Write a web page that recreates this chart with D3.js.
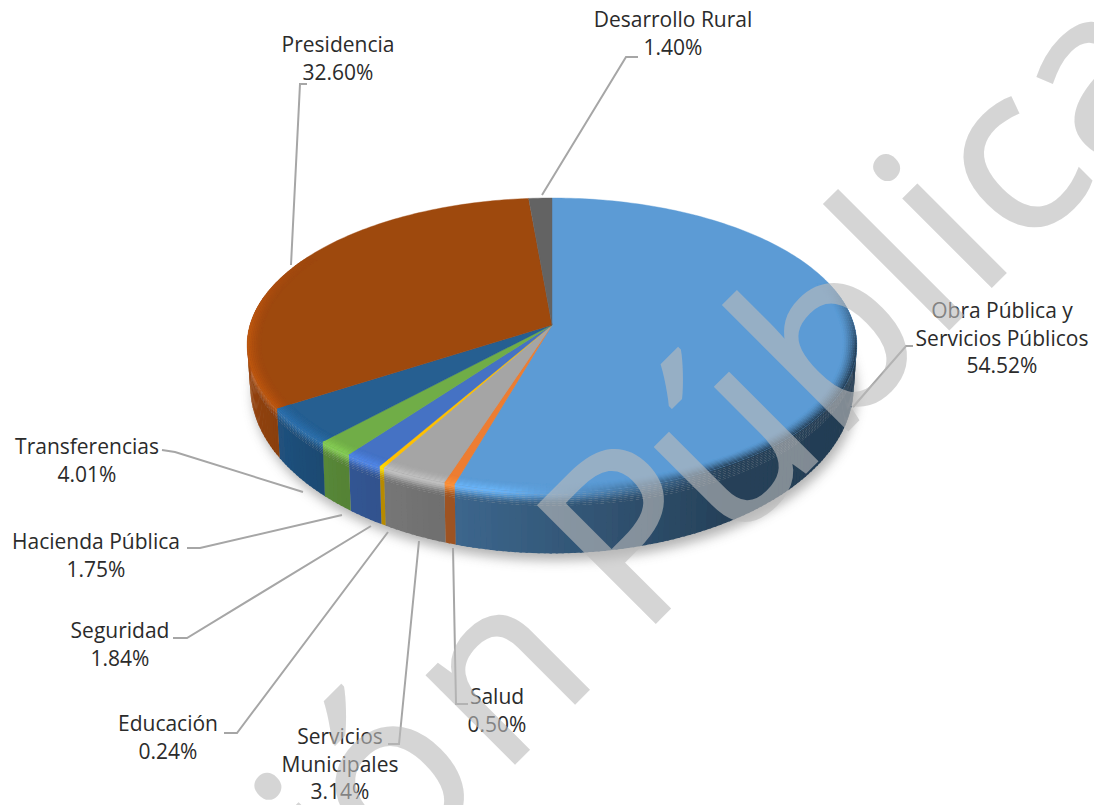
<!DOCTYPE html>
<html>
<head>
<meta charset="utf-8">
<script src="https://d3js.org/d3.v7.min.js"></script>
<style>
  html, body { margin: 0; padding: 0; background: #fff; }
  svg { display: block; }
  text { font-family: "Open Sans", sans-serif; fill: #2b2b2b; }
</style>
</head>
<body>
<div id="chart"></div>
<script>
// Values
const categories = ["Obra Pública y|Servicios Públicos", "Salud", "Servicios|Municipales", "Educación", "Seguridad", "Hacienda Pública", "Transferencias", "Presidencia", "Desarrollo Rural"];
const shares = [54.52, 0.50, 3.14, 0.24, 1.84, 1.75, 4.01, 32.60, 1.40];
const colors = ["#5B9BD5", "#ED7D31", "#A5A5A5", "#FFC000", "#4472C4", "#70AD47", "#255E91", "#9E480E", "#636363"];

// Label layout, same order as categories: text centre, first baseline, leader line
const labelX = [1002, 497, 340, 168, 120, 96, 87, 338, 673];
const labelY = [318, 704, 744, 731, 638, 549, 454, 52, 27];
const leaders = [
    [[853, 407], [906, 346], [913, 346]],
    [[453, 548], [456, 704], [468, 704]],
    [[419, 541], [399, 744], [388, 744]],
    [[388, 532], [237, 733], [224, 733]],
    [[371, 526], [187, 638], [173, 638]],
    [[342, 515], [200, 548], [187, 548]],
    [[303, 492], [175, 452], [162, 450]],
    [[291, 265], [300, 84], [307, 84]],
    [[542, 195], [626, 57], [638, 57]]
];

// Watermark letters and where each one starts along its baseline
const markText = "Opinión Pública";
const markX = [-920, -739, -597, -538, -396, -346, -195, -30, 1, 129, 276, 419, 479, 542, 656];

const width = 1094, height = 805;

const svg = d3.select("#chart").append("svg")
    .attr("width", width)
    .attr("height", height);

const defs = svg.append("defs");
defs.append("filter").attr("id", "soft")
    .append("feGaussianBlur").attr("stdDeviation", 0.7);
defs.append("filter").attr("id", "groundBlur")
    .attr("x", "-10%").attr("y", "-10%").attr("width", "120%").attr("height", "120%")
    .append("feGaussianBlur").attr("stdDeviation", 6);

// Tilted circle: apex sits above the ellipse centre because of the perspective
const apexX = 552, apexY = 325;
const stretchX = 302, stretchY = 144.3, persp = -0.136;
const RAD = Math.PI / 180;

function topPoint(deg, r) {
    const u = r * Math.sin(deg * RAD), v = -r * Math.cos(deg * RAD);
    const w = 1 + persp * v;
    return [apexX + stretchX * u / w, apexY + stretchY * v / w];
}
// r on the surface, s = how far down the side wall (0..1)
function point(deg, r, s) {
    const p = topPoint(deg, r);
    const bx = apexX + 0.99 * (p[0] - apexX);
    const by = apexY + 38 + 1.14 * (p[1] - apexY);
    return [p[0] + (bx - p[0]) * s, p[1] + (by - p[1]) * s];
}

const pie = d3.pie().sort(null).value(d => d);
const slices = pie(shares).map((d, i) => ({
    i: i,
    a0: d.startAngle / RAD,
    a1: d.endAngle / RAD,
    color: colors[i]
}));

// Lighting around the rim
const sideShade = d3.scaleLinear()
    .domain([80, 150, 196, 215, 240, 262, 285])
    .range([0.36, 0.42, 0.66, 0.74, 0.88, 0.95, 0.95]).clamp(true);
const rimLight = d3.scaleLinear()
    .domain([150, 190, 240, 268, 300])
    .range([1, 1.16, 1.2, 1.22, 1]).clamp(true);
const rimDark = d3.scaleLinear()
    .domain([72, 100, 150, 188])
    .range([0, 1, 1, 0]).clamp(true);

function sideColor(c, a) {
    return d3.interpolateRgb("#000", c)(sideShade(a));
}
function rimColor(c, a) {
    const base = d3.rgb(c), k = rimLight(a);
    const lit = d3.rgb(base.r * k, base.g * k, base.b * k).clamp().toString();
    return d3.interpolateRgb(lit, sideColor(c, a))(rimDark(a));
}

const line = d3.line();
const step = 1, overlap = 0.4;

function arcSteps(a0, a1) {
    const out = [];
    for (let a = a0; a < a1 - 1e-6; a += step) out.push([a, Math.min(a + step + overlap, a1)]);
    return out;
}
function quad(a0, a1, st0, st1) {
    return line([point(a0, st0.r, st0.s), point(a1, st0.r, st0.s), point(a1, st1.r, st1.s), point(a0, st1.r, st1.s)]) + "Z";
}

const pieG = svg.append("g").attr("filter", "url(#soft)");

// ground shadow
const rimAngles = d3.range(0, 361, 3);
svg.insert("path", "g")
    .attr("d", line(rimAngles.map(a => point(a, 1, 1))) + "Z")
    .attr("transform", "translate(3,7)")
    .attr("fill", "#666")
    .attr("opacity", 0.5)
    .attr("filter", "url(#groundBlur)");

// side walls (front half only), fading from the rim colour to the wall colour
const wallStops = [1, 0.22, 0.19, 0.16, 0.13, 0.10, 0.07, 0.04, 0];
const wallEase = d3.scaleLinear().domain([0, 0.22]).range([0, 1]).clamp(true);
slices.forEach(sl => {
    const a0 = Math.max(sl.a0, 78), a1 = Math.min(sl.a1, 282);
    if (a1 <= a0) return;
    d3.pairs(wallStops).forEach(([s1, s0]) => {
        const f = d3.easeSinInOut(wallEase((s0 + s1) / 2));
        arcSteps(a0, a1).forEach(([p, q]) => {
            const m = (p + q) / 2;
            pieG.append("path")
                .attr("d", quad(p, q, { r: 1, s: s0 }, { r: 1, s: s1 }))
                .attr("fill", d3.interpolateRgb(rimColor(sl.color, m), sideColor(sl.color, m))(f));
        });
    });
});

// flat top of each slice
slices.forEach(sl => {
    const pts = [[apexX, apexY]];
    d3.range(sl.a0, sl.a1, 1).concat([sl.a1]).forEach(a => pts.push(topPoint(a, 1)));
    pieG.append("path")
        .attr("d", line(pts) + "Z")
        .attr("fill", sl.color)
        .attr("stroke", sl.color)
        .attr("stroke-width", 0.4);
});

// bevel along the rim of the top face
const ringRadii = d3.range(0, 9).map(k => 0.955 + k * 0.045 / 8);
slices.forEach(sl => {
    const a0 = Math.max(sl.a0, 72), a1 = Math.min(sl.a1, 300);
    if (a1 <= a0) return;
    d3.pairs(ringRadii).forEach(([r0, r1], k) => {
        const t = Math.pow((k + 0.5) / (ringRadii.length - 1), 1.4);
        arcSteps(a0, a1).forEach(([p, q]) => {
            const m = (p + q) / 2;
            pieG.append("path")
                .attr("d", quad(p, q, { r: r0, s: 0 }, { r: r1, s: 0 }))
                .attr("fill", d3.interpolateRgb(sl.color, rimColor(sl.color, m))(t));
        });
    });
});

// leader lines
svg.append("g").selectAll("path")
    .data(leaders)
    .enter()
    .append("path")
    .attr("d", d => line(d))
    .attr("fill", "none")
    .attr("stroke", "#A6A6A6")
    .attr("stroke-width", 2);

// labels
const labelG = svg.append("g").attr("font-size", 21).attr("text-anchor", "middle");
categories.forEach((name, i) => {
    const rows = name.split("|").concat([shares[i].toFixed(2) + "%"]);
    const t = labelG.append("text").attr("x", labelX[i]).attr("y", labelY[i]);
    rows.forEach((row, k) => {
        t.append("tspan")
            .attr("x", labelX[i])
            .attr("dy", k === 0 ? 0 : 27.5)
            .text(row);
    });
});

// watermark, letter by letter along the diagonal
svg.append("g")
    .attr("transform", "translate(639,639) rotate(-45)")
    .append("text")
    .attr("x", markX.join(" "))
    .attr("y", 0)
    .attr("font-size", 232)
    .style("fill", "#bcbcbc")
    .style("stroke", "#bcbcbc")
    .style("stroke-width", 2.5)
    .attr("opacity", 0.61)
    .text(markText);
</script>
</body>
</html>
